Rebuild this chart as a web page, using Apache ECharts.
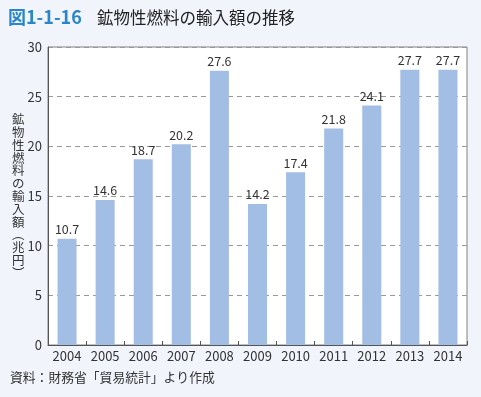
<!DOCTYPE html>
<html><head><meta charset="utf-8">
<script src="https://cdn.jsdelivr.net/npm/echarts@6/dist/echarts.min.js"></script>
<style>html,body{margin:0;padding:0;background:#f1f5fb;}#c{width:481px;height:397px;}</style>
</head><body><div id="c"></div>
<script>
const years = ['2004','2005','2006','2007','2008','2009','2010','2011','2012','2013','2014'];
const imports = [10.7, 14.6, 18.7, 20.2, 27.6, 14.2, 17.4, 21.8, 24.1, 27.7, 27.7];
const yTicks = [0, 5, 10, 15, 20, 25, 30];
const yName = '鉱物性燃料の輸入額︵兆円︶';
const font = '"Noto Sans CJK JP","Noto Sans",sans-serif';
const chart = echarts.init(document.getElementById('c'));
chart.setOption({
  backgroundColor: '#f1f5fb',
  animation: false,
  textStyle: {fontFamily: font},
  graphic: [
    {type:'text', left: 8, top: 8, style:{text:'図1-1-16', fontSize:18, fill:'#2a86c8', fontFamily:font, fontWeight:'bold'}},
    {type:'text', left: 97, top: 9, style:{text:'鉱物性燃料の輸入額の推移', fontSize:16.5, fill:'#222', fontFamily:font}},
    {type:'text', left: 10, top: 371, style:{text:'資料：財務省「貿易統計」より作成', fontSize:12.8, fill:'#333', fontFamily:font}},
    {type:'text', left: 12, top: 113, style:{text: yName.split('').join('\n'), fontSize:12.5, lineHeight:12.8, fill:'#333', fontFamily:font, align:'left'}}
  ],
  grid: {left: 48, right: 14, top: 47, bottom: 52, show: true, backgroundColor: '#ffffff', borderColor: '#808080', borderWidth: 1},
  xAxis: {
    type: 'category', data: years,
    axisLine: {lineStyle:{color:'#555', width:1}},
    axisTick: {show:true, inside:true, length:4, lineStyle:{color:'#555'}},
    axisLabel: {color:'#333', fontSize:13, margin:5, fontFamily:font}
  },
  yAxis: {
    type: 'value', min: yTicks[0], max: yTicks[yTicks.length-1], interval: 5,
    axisLine: {show:true, lineStyle:{color:'#555'}},
    axisTick: {show:false},
    axisLabel: {color:'#333', fontSize:13, margin:6, fontFamily:font},
    splitLine: {show:true, lineStyle:{color:'#999', type:[5,4], width:1}}
  },
  series: [{
    type: 'bar', data: imports, barWidth: '50%',
    itemStyle: {color: '#a3bee4'},
    label: {show:true, position:'top', color:'#333', fontSize:12.5, distance:3, fontFamily:font, formatter: p => p.value.toFixed(1)}
  }]
});
</script></body></html>
